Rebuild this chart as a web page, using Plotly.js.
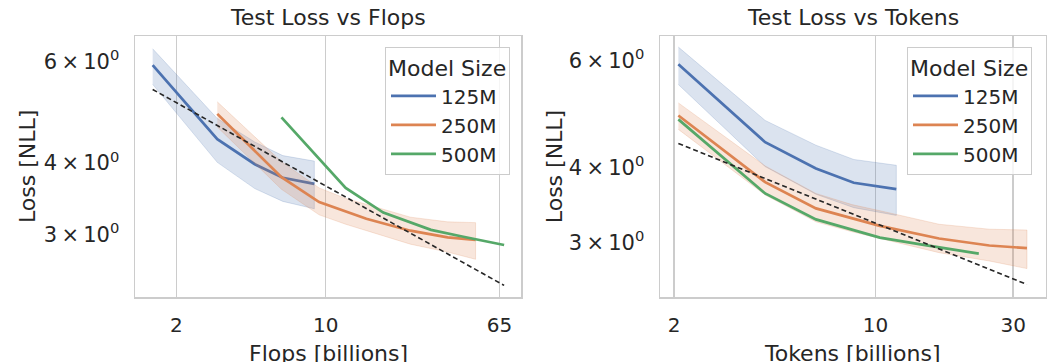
<!DOCTYPE html>
<html><head><meta charset="utf-8">
<script src="https://cdn.plot.ly/plotly-3.0.1.min.js"></script>
<style>html,body{margin:0;padding:0;background:#fff}</style>
</head><body><div id="chart" style="width:1047px;height:362px"></div>
<script>
// ---- data ----
const modelSizes = ['125M', '250M', '500M'];

// 125M
const tokens125 = [2.07, 4.14, 6.21, 8.4, 11.8];
const flops125  = [1.55, 3.11, 4.66, 6.3, 8.85];
const loss125   = [5.92, 4.40, 3.98, 3.77, 3.68];
const upper125  = [6.32, 4.78, 4.35, 4.12, 4.03];
const lower125  = [5.48, 4.01, 3.61, 3.43, 3.33];

// 250M
const tokens250 = [2.07, 4.14, 6.21, 8.28, 10.35, 16.6, 24.8, 33.5];
const flops250  = [3.11, 6.21, 9.32, 12.4, 15.5, 24.9, 37.2, 50.3];
const loss250   = [4.87, 3.78, 3.42, 3.29, 3.20, 3.05, 2.97, 2.94];
const upper250  = [5.11, 4.02, 3.62, 3.47, 3.39, 3.22, 3.16, 3.15];
const lower250  = [4.62, 3.60, 3.25, 3.13, 3.05, 2.89, 2.80, 2.72];

// 500M
const tokens500 = [2.07, 4.14, 6.21, 8.28, 10.35, 14.5, 22.8];
const flops500  = [6.21, 12.4, 18.6, 24.8, 31.1, 43.5, 68.4];
const loss500   = [4.80, 3.62, 3.28, 3.15, 3.06, 2.98, 2.88];

// power-law fit lines (endpoints)
const fitFlopsX  = [1.55, 68.4];
const fitFlopsY  = [5.37, 2.45];
const fitTokensX = [2.07, 33.5];
const fitTokensY = [4.38, 2.56];

// tick labels
const flopsTicks  = [2, 10, 65];
const tokensTicks = [2, 10, 30];
const lossTicks   = [3, 4, 6];
const lossTickText = ['3\u2009×\u200910<sup>0</sup>', '4\u2009×\u200910<sup>0</sup>', '6\u2009×\u200910<sup>0</sup>'];

// ---- styling ----
const TXT = '#262626';
const GRID = '#cccccc';
const FONT = 'DejaVu Sans, sans-serif';
const colors = {'125M': '#4C72B0', '250M': '#DD8452', '500M': '#55A868'};
const bands  = {'125M': 'rgba(76,114,176,0.2)', '250M': 'rgba(221,132,82,0.2)'};

function band(x, lo, hi, name, xa, ya) {
  return {
    x: x.concat(x.slice().reverse()),
    y: hi.concat(lo.slice().reverse()),
    xaxis: xa, yaxis: ya, type: 'scatter', mode: 'lines',
    fill: 'toself', fillcolor: bands[name],
    line: {color: bands[name], width: 1},
    hoverinfo: 'skip', showlegend: false
  };
}
function line(x, y, name, xa, ya, leg, show) {
  return {
    x: x, y: y, xaxis: xa, yaxis: ya, type: 'scatter', mode: 'lines',
    name: name, legend: leg, legendgroup: name + leg, showlegend: show,
    line: {color: colors[name], width: 2.7}
  };
}
function fit(x, y, xa, ya) {
  return {x: x, y: y, xaxis: xa, yaxis: ya, type: 'scatter', mode: 'lines',
    line: {color: TXT, width: 1.6, dash: '5px,3px'}, showlegend: false, hoverinfo: 'skip'};
}

const traces = [
  band(flops125, lower125, upper125, '125M', 'x', 'y'),
  line(flops125, loss125, '125M', 'x', 'y', 'legend', true),
  band(flops250, lower250, upper250, '250M', 'x', 'y'),
  line(flops250, loss250, '250M', 'x', 'y', 'legend', true),
  line(flops500, loss500, '500M', 'x', 'y', 'legend', true),
  fit(fitFlopsX, fitFlopsY, 'x', 'y'),

  band(tokens125, lower125, upper125, '125M', 'x2', 'y2'),
  line(tokens125, loss125, '125M', 'x2', 'y2', 'legend2', true),
  band(tokens250, lower250, upper250, '250M', 'x2', 'y2'),
  line(tokens250, loss250, '250M', 'x2', 'y2', 'legend2', true),
  line(tokens500, loss500, '500M', 'x2', 'y2', 'legend2', true),
  fit(fitTokensX, fitTokensY, 'x2', 'y2')
];

const W = 1047, H = 362;
const px = v => v / W, py = v => 1 - v / H;

function xax(dom, range, ticks, anchor) {
  return {type: 'log', domain: dom, range: range, anchor: anchor,
    tickvals: ticks, ticktext: ticks.map(String),
    showgrid: true, gridcolor: GRID, gridwidth: 1.5,
    showline: true, mirror: true, linecolor: GRID, linewidth: 1.5,
    ticks: '', ticklabelstandoff: 9, zeroline: false,
    tickfont: {size: 20, color: TXT, family: FONT}};
}
function yax(range, anchor) {
  return {type: 'log', domain: [1 - 297 / H, 1 - 36 / H], range: range, anchor: anchor,
    tickvals: lossTicks, ticktext: lossTickText,
    showgrid: false, showline: true, mirror: true, linecolor: GRID, linewidth: 1.5,
    ticks: '', ticklabelstandoff: 10, zeroline: false,
    tickfont: {size: 21, color: TXT, family: FONT}};
}
function legend(xRight) {
  return {x: px(xRight), xanchor: 'right', y: py(46.7), yanchor: 'top',
    bgcolor: 'rgba(255,255,255,0.8)', bordercolor: GRID, borderwidth: 1,
    font: {size: 20, color: TXT, family: FONT}, itemwidth: 45,
    title: {text: 'Model Size', font: {size: 22, color: TXT, family: FONT}},
    traceorder: 'normal'};
}
function ann(text, x, y, extra) {
  return Object.assign({text: text, xref: 'paper', yref: 'paper', x: px(x), y: py(y),
    xanchor: 'center', yanchor: 'middle', showarrow: false,
    font: {size: 22, color: TXT, family: FONT}}, extra || {});
}

const layout = {
  width: W, height: H, margin: {l: 0, r: 0, t: 0, b: 0},
  paper_bgcolor: '#fff', plot_bgcolor: '#fff',
  font: {family: FONT, color: TXT},
  xaxis: xax([px(135), px(521)], [0.1077, 1.914], flopsTicks, 'y'),
  yaxis: yax([0.369, 0.8229], 'x'),
  xaxis2: xax([px(660), px(1046)], [0.2523, 1.591], tokensTicks, 'y2'),
  yaxis2: yax([0.3876, 0.8190], 'x2'),
  legend: legend(510),
  legend2: legend(1032),
  annotations: [
    ann('Test Loss vs Flops', 328, 17),
    ann('Test Loss vs Tokens', 852.5, 17),
    ann('Flops [billions]', 328, 353),
    ann('Tokens [billions]', 852.5, 353),
    ann('Loss [NLL]', 27.5, 166.5, {textangle: -90}),
    ann('Loss [NLL]', 554.7, 166.5, {textangle: -90})
  ]
};

Plotly.newPlot('chart', traces, layout, {displayModeBar: false, staticPlot: true});
</script>
</body></html>
